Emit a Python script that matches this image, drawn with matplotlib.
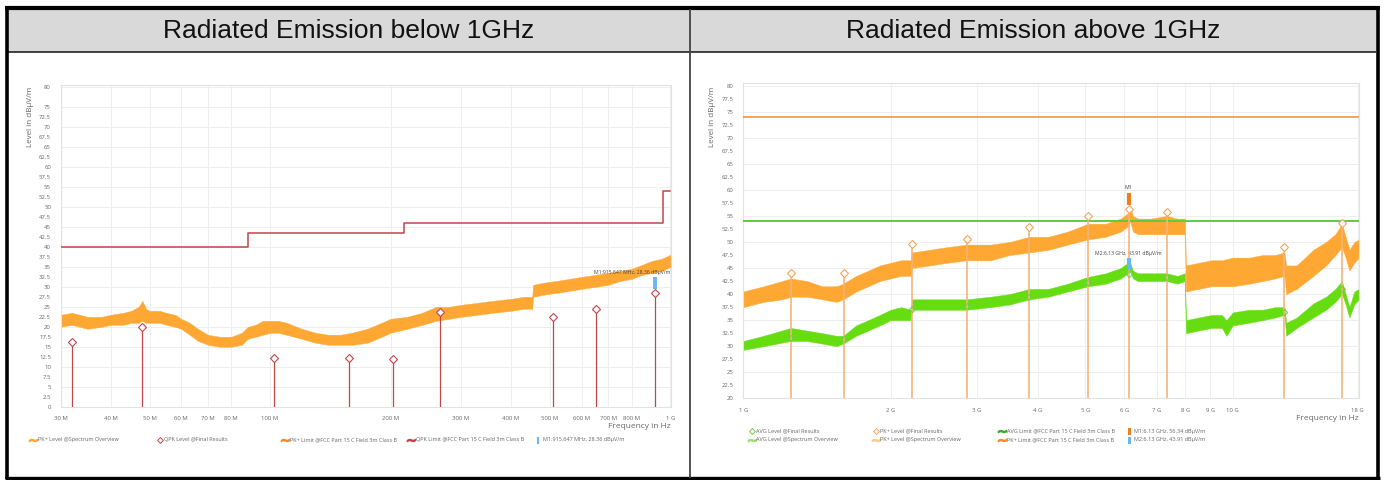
"""Radiated emission plots (below / above 1 GHz) laid out as a two-cell report table."""

import matplotlib
matplotlib.use("Agg")
import matplotlib.pyplot as plt
from matplotlib.lines import Line2D
from matplotlib.patches import Rectangle
from matplotlib.ticker import FixedLocator, NullLocator
import numpy as np

W, H = 1384, 480

# ---------------- below 1 GHz ----------------
low_freq_mhz = [30, 32, 35, 38, 40, 43, 45, 47, 48, 49, 50, 53, 55, 58, 60, 63, 66, 70, 75, 80,
                85, 88, 92, 96, 100, 105, 110, 120, 130, 140, 150, 160, 175, 190, 200, 220, 240,
                260, 280, 300, 330, 360, 400, 430, 452, 454, 480, 520, 560, 600, 650, 700, 750,
                800, 850, 900, 950, 1000]
low_pk_min = [20.0, 20.5, 19.5, 20.0, 20.5, 20.5, 21.0, 21.0, 21.5, 21.0, 21.0, 21.0, 20.5, 20.0,
              19.5, 18.0, 16.5, 15.5, 15.0, 15.0, 15.5, 17.0, 17.5, 18.0, 18.5, 18.5, 18.0, 17.0,
              16.0, 15.5, 15.5, 15.5, 16.0, 17.5, 18.5, 19.5, 20.5, 21.5, 22.0, 22.5, 23.0, 23.5,
              24.0, 24.5, 24.5, 27.5, 28.0, 28.5, 29.0, 29.5, 30.0, 30.5, 31.5, 32.0, 33.0, 33.5,
              34.0, 35.0]
low_pk_max = [23.0, 23.5, 22.5, 22.5, 23.0, 23.5, 24.0, 25.0, 26.5, 24.5, 24.0, 24.0, 23.5, 23.0,
              22.0, 21.0, 19.5, 18.0, 17.5, 17.5, 18.5, 20.0, 20.5, 21.5, 21.5, 21.5, 21.0, 19.5,
              18.5, 18.0, 18.0, 18.5, 19.5, 21.0, 22.0, 22.5, 23.5, 25.0, 25.0, 25.5, 26.0, 26.5,
              27.0, 27.5, 27.5, 30.5, 31.0, 31.5, 32.0, 32.5, 33.0, 33.5, 34.0, 34.5, 35.5, 36.5,
              37.0, 38.0]

qpk_limit_freq_mhz = [30, 88, 88, 216, 216, 960, 960, 1000]
qpk_limit_level = [40, 40, 43.5, 43.5, 46, 46, 54, 54]

qpk_freq_mhz = [32.0, 47.9, 102.3, 157.1, 202.6, 266.2, 508.6, 651.6, 915.647]
qpk_level = [16.25, 20.0, 12.25, 12.3, 11.9, 23.6, 22.35, 24.5, 28.36]

low_m1_freq_mhz = 915.647
low_m1_text = "M1:915.647 MHz, 28.36 dBµV/m"

low_xticks_mhz = [30, 40, 50, 60, 70, 80, 100, 200, 300, 400, 500, 600, 700, 800, 1000]
low_xlabels = ["30 M", "40 M", "50 M", "60 M", "70 M", "80 M", "100 M", "200 M", "300 M",
               "400 M", "500 M", "600 M", "700 M", "800 M", "1 G"]

# ---------------- above 1 GHz ----------------
high_freq_ghz = [1.0, 1.1, 1.2, 1.25, 1.35, 1.45, 1.55, 1.6, 1.7, 1.8, 1.9, 2.0, 2.1, 2.2, 2.21,
                 2.4, 2.6, 2.86, 3.2, 3.5, 3.84, 4.2, 4.6, 5.06, 5.5, 5.9, 6.1, 6.17, 6.25, 6.4,
                 6.8, 7.33, 7.7, 7.98, 8.02, 8.5, 9.05, 9.5, 10.0, 10.8, 11.5, 12.2, 12.75, 12.85,
                 13.5, 14.6, 15.5, 16.2, 16.7, 17.0, 17.3, 17.7, 18.1]
high_pk_min = [37.5, 38.5, 39.0, 39.5, 39.5, 39.0, 38.5, 39.0, 40.5, 41.5, 42.5, 43.0, 43.5, 43.5,
               45.0, 45.5, 46.0, 46.5, 46.5, 47.5, 48.0, 48.5, 49.5, 50.5, 51.0, 52.0, 53.0, 54.0,
               52.0, 51.5, 51.5, 51.5, 51.5, 51.5, 40.5, 41.0, 41.5, 41.5, 41.5, 42.0, 42.5, 43.0,
               43.5, 40.0, 41.0, 43.5, 45.5, 47.5, 49.0, 47.0, 44.5, 46.0, 47.0]
high_pk_max = [40.5, 41.5, 42.5, 43.0, 42.5, 41.5, 41.5, 42.0, 43.5, 44.5, 45.5, 46.0, 46.5, 46.5,
               48.0, 48.5, 49.0, 49.5, 49.5, 50.0, 51.0, 51.0, 52.0, 53.5, 53.5, 54.5, 55.5, 56.8,
               55.0, 54.5, 54.5, 55.0, 54.5, 54.5, 45.5, 46.0, 46.5, 46.5, 47.0, 47.0, 47.5, 47.5,
               48.0, 45.5, 45.5, 48.5, 50.0, 51.5, 53.5, 51.0, 48.5, 50.0, 50.5]

avg_freq_ghz = [1.0, 1.1, 1.25, 1.35, 1.45, 1.55, 1.6, 1.7, 1.8, 1.9, 2.0, 2.1, 2.2, 2.21, 2.4,
                2.6, 2.86, 3.2, 3.5, 3.84, 4.2, 4.6, 5.06, 5.5, 5.9, 6.1, 6.17, 6.25, 6.4, 6.8,
                7.33, 7.7, 7.98, 8.02, 8.5, 9.05, 9.5, 9.7, 10.0, 10.8, 11.5, 12.2, 12.75, 12.85,
                13.5, 14.6, 15.5, 16.2, 16.7, 17.0, 17.3, 17.7, 18.1]
avg_min = [29.3, 30.0, 31.0, 31.0, 30.5, 30.0, 30.5, 32.0, 33.0, 34.0, 35.0, 35.0, 35.0, 37.0,
           37.0, 37.0, 37.0, 37.5, 38.0, 39.0, 39.5, 40.5, 41.5, 42.0, 43.0, 44.0, 44.5, 43.0,
           42.5, 42.5, 42.5, 42.0, 42.5, 32.5, 33.0, 33.5, 33.5, 32.0, 34.0, 34.5, 35.0, 35.5,
           36.0, 32.0, 33.5, 35.5, 37.0, 38.5, 40.0, 38.0, 35.5, 38.0, 39.0]
avg_max = [31.0, 32.0, 33.5, 33.0, 32.5, 32.0, 32.0, 34.0, 35.0, 36.0, 37.0, 37.5, 37.0, 39.0,
           39.0, 39.0, 39.0, 39.5, 40.0, 41.0, 41.0, 42.0, 43.3, 44.0, 45.0, 46.0, 46.0, 44.5,
           44.0, 44.0, 44.0, 43.5, 44.0, 35.0, 35.5, 36.0, 36.0, 35.0, 36.5, 37.0, 37.0, 37.5,
           37.5, 34.5, 35.5, 38.2, 39.5, 41.0, 42.5, 40.0, 37.5, 40.5, 41.0]

pk_limit = 74.0
avg_limit = 54.0

final_freq_ghz = [1.25, 1.606, 2.21, 2.86, 3.84, 5.07, 6.13, 7.33, 12.7, 16.7]
final_pk = [44.1, 44.1, 49.6, 50.5, 52.9, 55.0, 56.34, 55.8, 49.1, 53.7]
final_avg = [31.6, 31.3, 37.1, 37.7, 39.5, 42.4, 43.91, 43.2, 36.5, 40.9]

high_marker_freq_ghz = 6.13
high_m2_text = "M2:6.13 GHz, 43.91 dBµV/m"

high_xticks_ghz = [1, 2, 3, 4, 5, 6, 7, 8, 9, 10, 18]
high_xlabels = ["1 G", "2 G", "3 G", "4 G", "5 G", "6 G", "7 G", "8 G", "9 G", "10 G", "18 G"]

# colours
PK_TRACE = "#ffa733"
QPK_RED = "#c4454a"
PK_LIMIT = "#f28a2e"
AVG_LIMIT = "#5ccd3c"
AVG_TRACE = "#66dd11"
PK_STEM = "#f3b57a"
MARK_BLUE = "#6ab8f0"
MARK_ORANGE = "#f07d1a"
GRID = "#eeeeee"
TXT = "#666666"

CHART_FONT = ["Open Sans", "DejaVu Sans"]
plt.rcParams["font.family"] = CHART_FONT


def rect_px(x0, y0, x1, y1):
    """Axes rect from pixel box (top-left origin)."""
    return [x0 / W, 1 - y1 / H, (x1 - x0) / W, (y1 - y0) / H]


def fxy(x, y):
    return x / W, 1 - y / H


def style_axes(ax):
    for s in ax.spines.values():
        s.set_color("#e2e2e2")
        s.set_linewidth(0.8)
    ax.tick_params(axis="both", length=0, labelsize=4.3, colors=TXT)
    ax.tick_params(axis="y", pad=7)
    ax.tick_params(axis="x", pad=7)
    ax.xaxis.set_minor_locator(NullLocator())
    ax.set_axisbelow(True)


fig = plt.figure(figsize=(W / 100, H / 100), dpi=100)

# ---------------- table frame ----------------
fig.add_artist(Rectangle(fxy(8, 52), 1368 / W, 42 / H, transform=fig.transFigure,
                         facecolor="#d9d9d9", edgecolor="none", zorder=0))
def hline(x0, x1, y, lw, c):
    fig.add_artist(Line2D([x0 / W, x1 / W], [1 - y / H, 1 - y / H], transform=fig.transFigure,
                          color=c, lw=lw, solid_capstyle="butt"))
def vline(x, y0, y1, lw, c):
    fig.add_artist(Line2D([x / W, x / W], [1 - y0 / H, 1 - y1 / H], transform=fig.transFigure,
                          color=c, lw=lw, solid_capstyle="butt"))

hline(5, 1379.5, 8, 3.0, "black")
hline(5, 1379.5, 477.5, 2.4, "black")
hline(8, 1376, 52, 1.2, "#222222")
vline(6.5, 6.5, 479, 2.6, "black")
vline(1377.7, 6.5, 479, 2.6, "black")
vline(690, 9, 478, 1.3, "#444444")

hdr_font = ["Liberation Sans", "DejaVu Sans"]
fig.text(*fxy(349, 31), "Radiated Emission below 1GHz", ha="center", va="center",
         fontsize=19, family=hdr_font, color="#111111")
fig.text(*fxy(1033, 31), "Radiated Emission above 1GHz", ha="center", va="center",
         fontsize=19, family=hdr_font, color="#111111")

# ---------------- left chart ----------------
axl = fig.add_axes(rect_px(60.7, 84.7, 671, 406.7))
fl = np.array(low_freq_mhz) * 1e6
axl.fill_between(fl, low_pk_min, low_pk_max, color=PK_TRACE, lw=0.3, edgecolor=PK_TRACE, zorder=2)
axl.plot(np.array(qpk_limit_freq_mhz) * 1e6, qpk_limit_level, color=QPK_RED, lw=1.1, zorder=3)
qf = np.array(qpk_freq_mhz) * 1e6
axl.vlines(qf, 0, qpk_level, color=QPK_RED, lw=0.9, zorder=4)
axl.plot(qf, qpk_level, ls="none", marker="D", ms=3.6, mfc="white", mec=QPK_RED, mew=0.8, zorder=5)
axl.vlines([low_m1_freq_mhz * 1e6], 29.4, 32.4, color=MARK_BLUE, lw=2.8, zorder=6)
axl.text(1.003e9, 32.9, low_m1_text, ha="right", va="bottom", fontsize=3.7, color="#444444")

axl.set_xscale("log")
axl.set_xlim(30e6, 1.004e9)
axl.set_ylim(0, 80.6)
axl.xaxis.set_major_locator(FixedLocator([v * 1e6 for v in low_xticks_mhz]))
axl.set_xticklabels(low_xlabels)
l_yt = list(np.arange(0, 76, 2.5)) + [80]
axl.yaxis.set_major_locator(FixedLocator(l_yt))
axl.set_yticklabels([f"{v:g}" for v in l_yt])
style_axes(axl)
axl.xaxis.grid(True, color=GRID, lw=0.7)
for v in range(5, 81, 5):
    axl.axhline(v, color=GRID, lw=0.7, zorder=0)

fig.text(*fxy(671, 427), "Frequency in Hz", ha="right", va="center", fontsize=6, color=TXT)
fig.text(*fxy(30, 117), "Level in dBµV/m", ha="center", va="center", rotation=90,
         fontsize=5.8, color=TXT)

# ---------------- right chart ----------------
axr = fig.add_axes(rect_px(743.3, 82.6, 1359, 398.3))
fh = np.array(high_freq_ghz) * 1e9
fa = np.array(avg_freq_ghz) * 1e9
axr.fill_between(fh, high_pk_min, high_pk_max, color=PK_TRACE, lw=0.3, edgecolor=PK_TRACE, zorder=2)
axr.fill_between(fa, avg_min, avg_max, color=AVG_TRACE, lw=0.3, edgecolor=AVG_TRACE, zorder=2)
axr.axhline(pk_limit, color=PK_LIMIT, lw=1.1, zorder=3)
axr.axhline(avg_limit, color=AVG_LIMIT, lw=1.4, zorder=3)
ff = np.array(final_freq_ghz) * 1e9
axr.vlines(ff, 20, final_pk, color=PK_STEM, lw=1.2, zorder=4)
axr.plot(ff, final_avg, ls="none", marker="D", ms=3.2, mfc="none", mec="#6fcf4a", mew=0.7, zorder=5)
axr.plot(ff, final_pk, ls="none", marker="D", ms=3.6, mfc="white", mec="#f5a55a", mew=0.8, zorder=5)
mf = high_marker_freq_ghz * 1e9
axr.vlines([mf], 57.1, 59.4, color=MARK_ORANGE, lw=3.0, zorder=6)
axr.text(mf, 60.0, "M1", ha="center", va="bottom", fontsize=3.8, color="#444444")
axr.vlines([mf], 44.6, 47.0, color=MARK_BLUE, lw=3.0, zorder=6)
axr.text(mf, 47.3, high_m2_text, ha="center", va="bottom", fontsize=3.7, color="#444444")

axr.set_xscale("log")
axr.set_xlim(1e9, 18.1e9)
axr.set_ylim(20, 80.6)
axr.xaxis.set_major_locator(FixedLocator([v * 1e9 for v in high_xticks_ghz]))
axr.set_xticklabels(high_xlabels)
r_yt = list(np.arange(20, 80.1, 2.5))
axr.yaxis.set_major_locator(FixedLocator(r_yt))
axr.set_yticklabels([f"{v:g}" for v in r_yt])
style_axes(axr)
axr.xaxis.grid(True, color=GRID, lw=0.7)
for v in range(25, 81, 5):
    axr.axhline(v, color=GRID, lw=0.7, zorder=0)

fig.text(*fxy(1359, 418.5), "Frequency in Hz", ha="right", va="center", fontsize=6, color=TXT)
fig.text(*fxy(712.7, 117), "Level in dBµV/m", ha="center", va="center", rotation=90,
         fontsize=5.8, color=TXT)


# ---------------- legends ----------------
def icon_wave(x, y, c):
    fig.add_artist(Line2D([x / W], [1 - y / H], transform=fig.transFigure, marker=r"$\sim$",
                          ms=6, color=c, ls="none"))


def icon_diamond(x, y, c):
    fig.add_artist(Line2D([x / W], [1 - y / H], transform=fig.transFigure, marker="D",
                          ms=3.0, mfc="white", mec=c, mew=0.7, ls="none"))


def icon_bar(x, y, c):
    fig.add_artist(Rectangle(fxy(x - 1.2, y + 3.5), 2.4 / W, 7 / H, transform=fig.transFigure,
                             facecolor=c, edgecolor="none"))


def leg_text(x, y, s):
    fig.text(*fxy(x, y), s, ha="left", va="center", fontsize=4.0, color=TXT)


ly = 440
icon_wave(33, ly, PK_TRACE)
leg_text(38, ly, "PK+ Level @Spectrum Overview")
icon_diamond(159.5, ly, QPK_RED)
leg_text(164, ly, "QPK Level @Final Results")
icon_wave(285, ly, PK_LIMIT)
leg_text(290, ly, "PK+ Limit @FCC Part 15 C Field 3m Class B")
icon_wave(411, ly, QPK_RED)
leg_text(416, ly, "QPK Limit @FCC Part 15 C Field 3m Class B")
icon_bar(538, ly, MARK_BLUE)
leg_text(543, ly, "M1:915.647 MHz, 28.36 dBµV/m")

r1, r2 = 431, 440
icon_diamond(751.5, r1, "#6fcf4a")
leg_text(756.5, r1, "AVG Level @Final Results")
icon_wave(752, r2, "#9be06e")
leg_text(756.5, r2, "AVG Level @Spectrum Overview")
icon_diamond(876, r1, "#f5a55a")
leg_text(880.5, r1, "PK+ Level @Final Results")
icon_wave(876, r2, "#f8c98a")
leg_text(880.5, r2, "PK+ Level @Spectrum Overview")
icon_wave(1002, r1, "#3ea82a")
leg_text(1007, r1, "AVG Limit @FCC Part 15 C Field 3m Class B")
icon_wave(1002, r2, PK_LIMIT)
leg_text(1007, r2, "PK+ Limit @FCC Part 15 C Field 3m Class B")
icon_bar(1129.5, r1, MARK_ORANGE)
leg_text(1134, r1, "M1:6.13 GHz, 56.34 dBµV/m")
icon_bar(1129.5, r2, MARK_BLUE)
leg_text(1134, r2, "M2:6.13 GHz, 43.91 dBµV/m")

fig.savefig("out.png", dpi=100)
